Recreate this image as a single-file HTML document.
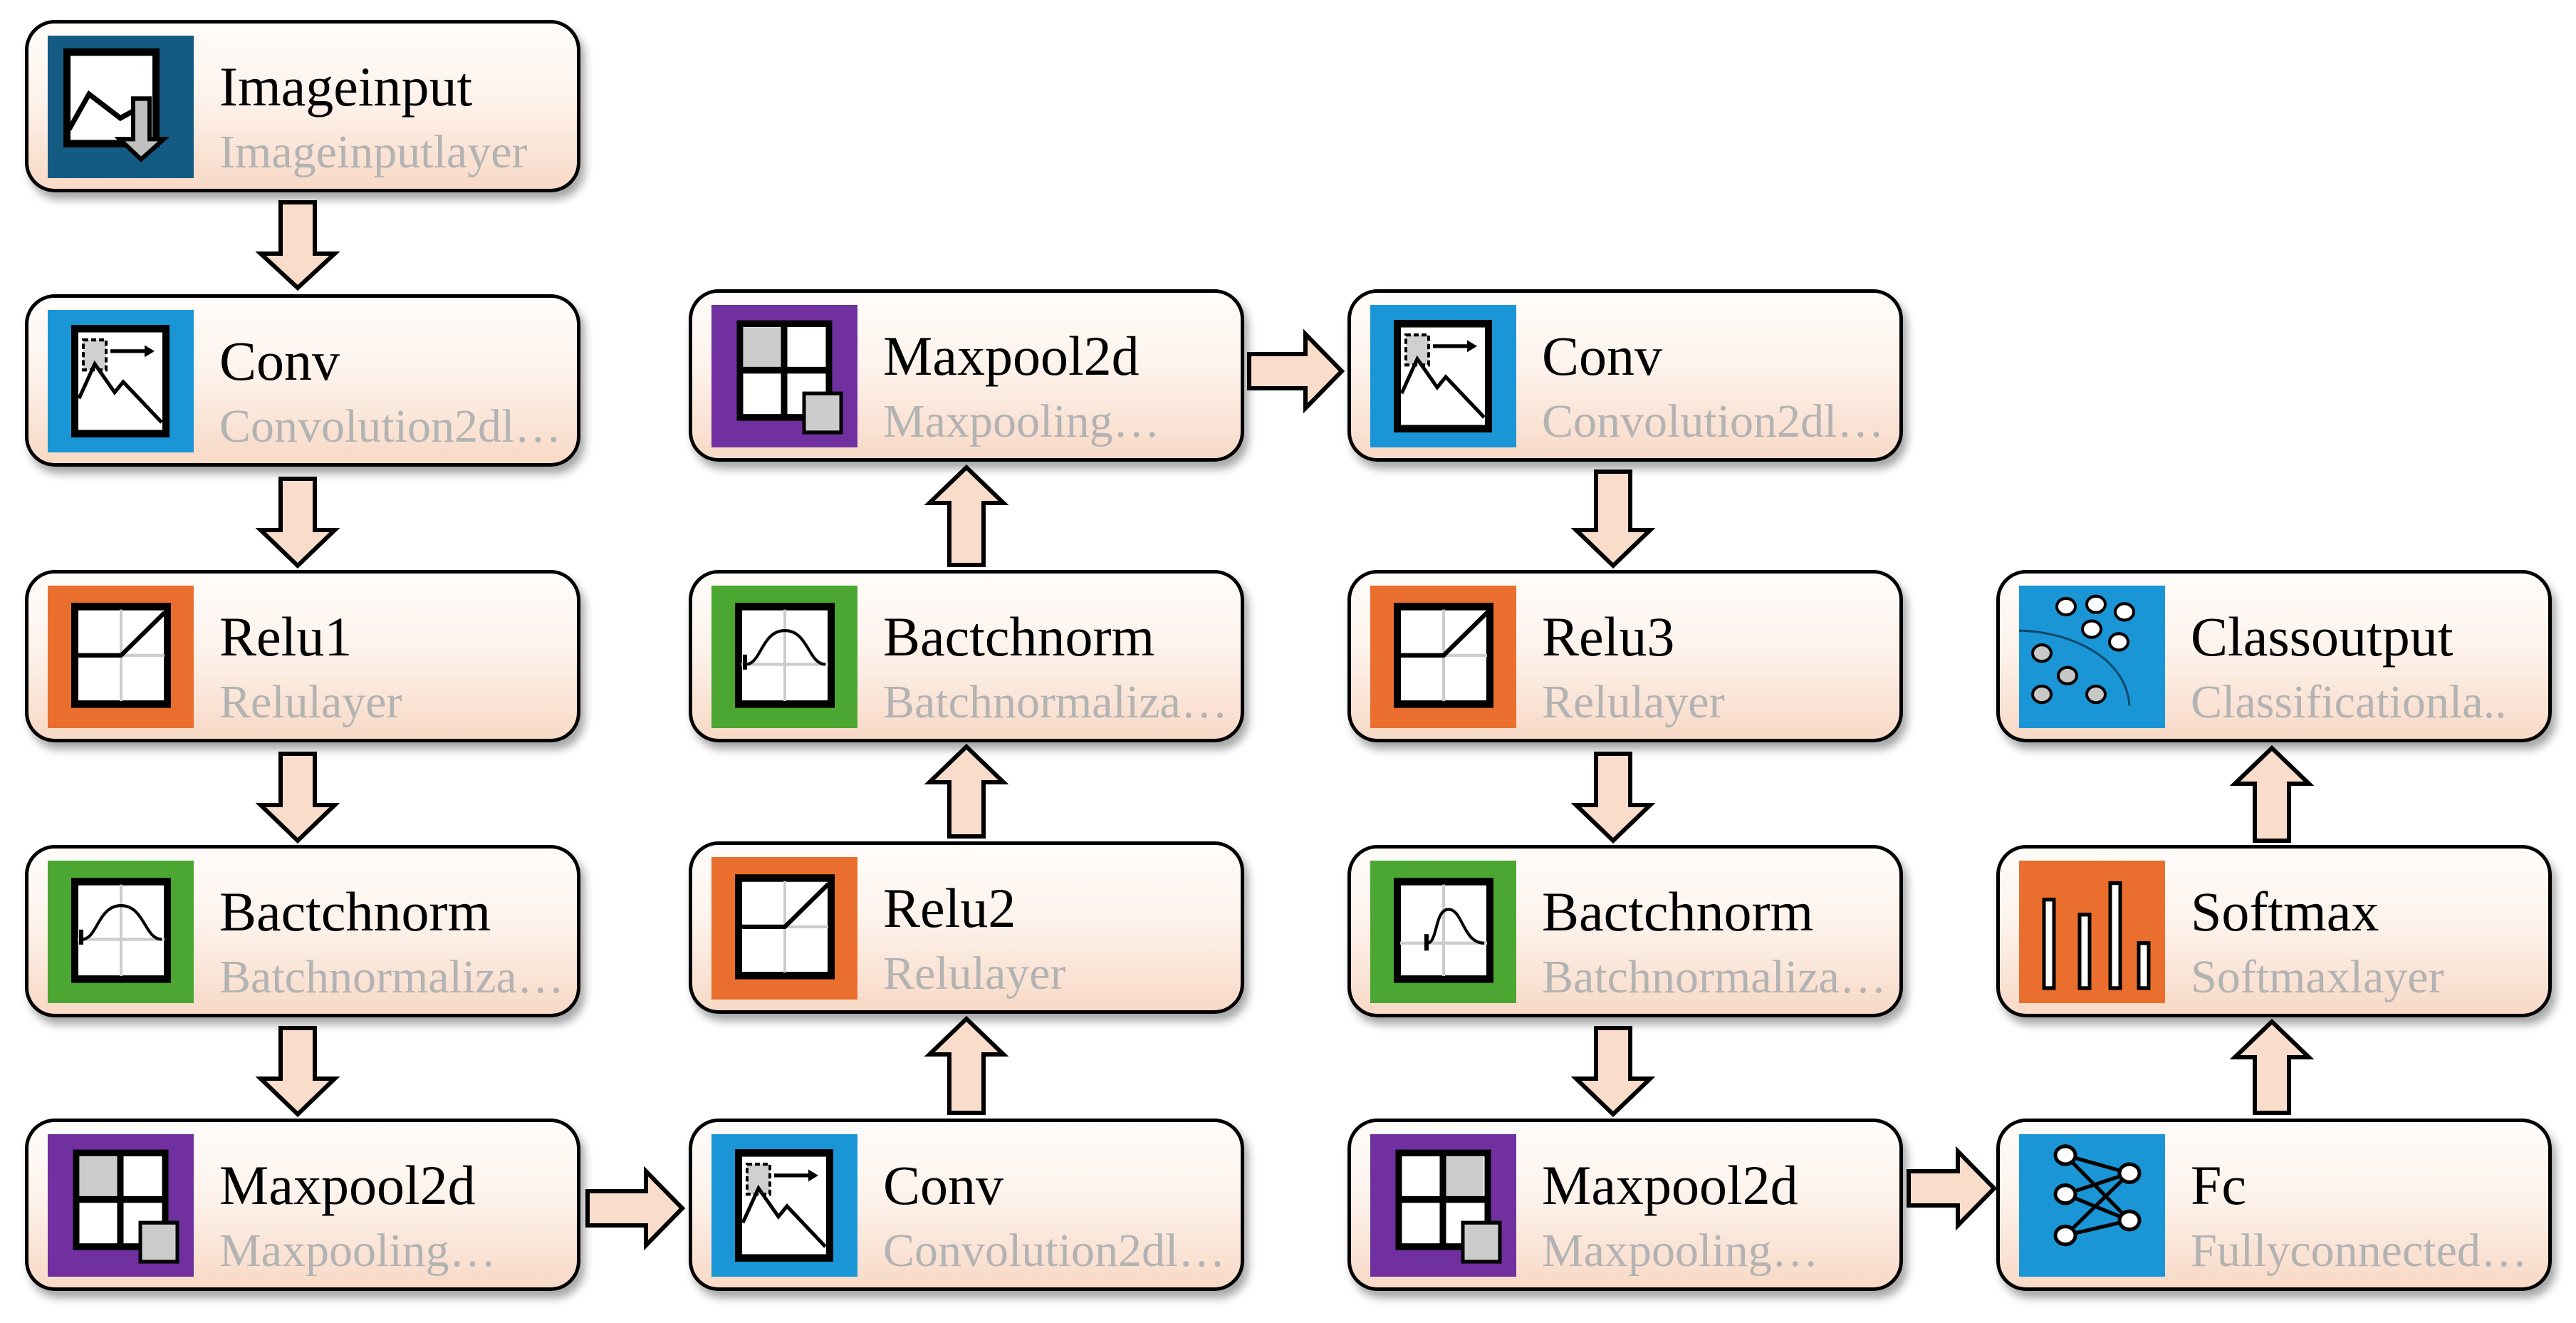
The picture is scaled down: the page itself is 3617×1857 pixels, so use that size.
<!DOCTYPE html>
<html><head><meta charset="utf-8"><style>
html,body{margin:0;padding:0;background:#fff;}
body{width:3617px;height:1857px;position:relative;overflow:hidden;font-family:"Liberation Serif",serif;}
.n{position:absolute;width:770px;height:232px;border:5px solid #000;border-radius:42px;box-sizing:content-box;
background:linear-gradient(to bottom,#fffcfa 0%,#fdf3ec 45%,#f8d9c6 100%);box-shadow:6px 10px 12px rgba(0,0,0,.35);}
.ic{position:absolute;left:27px;top:17px;width:205px;height:200px;}
.t{position:absolute;left:268px;top:50px;font-size:78px;color:#000;white-space:nowrap;line-height:1;}
.s{position:absolute;left:268px;top:148px;font-size:66px;color:#b3b3b3;white-space:nowrap;line-height:1;}
svg{display:block}
</style></head><body>

<!-- Column 1 -->
<div class="n" style="left:35px;top:28px">
 <svg class="ic" viewBox="0 0 205 190" preserveAspectRatio="none"><rect width="205" height="190" fill="#135b83"/>
 <rect x="27" y="22" width="125" height="122" fill="#fff" stroke="#000" stroke-width="10"/>
 <polyline points="30,125 58,78 102,110 125,98" fill="none" stroke="#000" stroke-width="7"/>
 <polygon points="120,84 143,84 143,138 163,138 131,165 101,138 120,138" fill="#c0c0c0" stroke="#000" stroke-width="6"/></svg>
 <div class="t">Imageinput</div><div class="s">Imageinputlayer</div></div>

<div class="n" style="left:35px;top:413px">
 <svg class="ic" viewBox="0 0 205 190" preserveAspectRatio="none"><rect width="205" height="190" fill="#1a96d6"/>
 <rect x="38" y="25" width="128" height="140" fill="#fff" stroke="#000" stroke-width="10"/>
 <rect x="50" y="40" width="32" height="40" fill="#d0d0d0" stroke="#000" stroke-width="4" stroke-dasharray="7,4"/>
 <polyline points="44,118 66,72 94,110 106,96 160,150" fill="none" stroke="#000" stroke-width="5"/>
 <line x1="88" y1="55" x2="140" y2="55" stroke="#000" stroke-width="5"/><polygon points="150,55 136,47 136,63"/></svg>
 <div class="t">Conv</div><div class="s">Convolution2dl…</div></div>

<div class="n" style="left:35px;top:800px">
 <svg class="ic" viewBox="0 0 205 190" preserveAspectRatio="none"><rect width="205" height="190" fill="#ea6f2f"/>
 <rect x="38" y="28" width="130" height="130" fill="#fff" stroke="#000" stroke-width="10"/>
 <line x1="103" y1="32" x2="103" y2="154" stroke="#ccc" stroke-width="4"/><line x1="42" y1="93" x2="164" y2="93" stroke="#ccc" stroke-width="4"/>
 <polyline points="42,93 103,93 164,36" fill="none" stroke="#000" stroke-width="6"/></svg>
 <div class="t">Relu1</div><div class="s">Relulayer</div></div>

<div class="n" style="left:35px;top:1186px">
 <svg class="ic" viewBox="0 0 205 190" preserveAspectRatio="none"><rect width="205" height="190" fill="#4ba731"/>
 <rect x="38" y="28" width="130" height="130" fill="#fff" stroke="#000" stroke-width="10"/>
 <line x1="103" y1="32" x2="103" y2="154" stroke="#ccc" stroke-width="4"/><line x1="42" y1="105" x2="164" y2="105" stroke="#ccc" stroke-width="4"/>
 <path d="M48,105 C70,105 70,60 103,60 C136,60 136,105 160,105" fill="none" stroke="#000" stroke-width="4"/><rect x="44" y="92" width="6" height="20"/></svg>
 <div class="t">Bactchnorm</div><div class="s">Batchnormaliza…</div></div>

<div class="n" style="left:35px;top:1570px">
 <svg class="ic" viewBox="0 0 205 190" preserveAspectRatio="none"><rect width="205" height="190" fill="#7030a0"/>
 <rect x="40" y="25" width="125" height="125" fill="#fff" stroke="#000" stroke-width="9"/>
 <rect x="45" y="30" width="57" height="57" fill="#ccc"/>
 <line x1="102" y1="25" x2="102" y2="150" stroke="#000" stroke-width="9"/><line x1="40" y1="87" x2="165" y2="87" stroke="#000" stroke-width="9"/>
 <rect x="130" y="118" width="52" height="52" fill="#ccc" stroke="#000" stroke-width="5"/></svg>
 <div class="t">Maxpool2d</div><div class="s">Maxpooling…</div></div>

<!-- Column 2 -->
<div class="n" style="left:967px;top:406px">
 <svg class="ic" viewBox="0 0 205 190" preserveAspectRatio="none"><rect width="205" height="190" fill="#7030a0"/>
 <rect x="40" y="25" width="125" height="125" fill="#fff" stroke="#000" stroke-width="9"/>
 <rect x="45" y="30" width="57" height="57" fill="#ccc"/>
 <line x1="102" y1="25" x2="102" y2="150" stroke="#000" stroke-width="9"/><line x1="40" y1="87" x2="165" y2="87" stroke="#000" stroke-width="9"/>
 <rect x="130" y="118" width="52" height="52" fill="#ccc" stroke="#000" stroke-width="5"/></svg>
 <div class="t">Maxpool2d</div><div class="s">Maxpooling…</div></div>

<div class="n" style="left:967px;top:800px">
 <svg class="ic" viewBox="0 0 205 190" preserveAspectRatio="none"><rect width="205" height="190" fill="#4ba731"/>
 <rect x="38" y="28" width="130" height="130" fill="#fff" stroke="#000" stroke-width="10"/>
 <line x1="103" y1="32" x2="103" y2="154" stroke="#ccc" stroke-width="4"/><line x1="42" y1="105" x2="164" y2="105" stroke="#ccc" stroke-width="4"/>
 <path d="M48,105 C70,105 70,60 103,60 C136,60 136,105 160,105" fill="none" stroke="#000" stroke-width="4"/><rect x="44" y="92" width="6" height="20"/></svg>
 <div class="t">Bactchnorm</div><div class="s">Batchnormaliza…</div></div>

<div class="n" style="left:967px;top:1181px">
 <svg class="ic" viewBox="0 0 205 190" preserveAspectRatio="none"><rect width="205" height="190" fill="#ea6f2f"/>
 <rect x="38" y="28" width="130" height="130" fill="#fff" stroke="#000" stroke-width="10"/>
 <line x1="103" y1="32" x2="103" y2="154" stroke="#ccc" stroke-width="4"/><line x1="42" y1="93" x2="164" y2="93" stroke="#ccc" stroke-width="4"/>
 <polyline points="42,93 103,93 164,36" fill="none" stroke="#000" stroke-width="6"/></svg>
 <div class="t">Relu2</div><div class="s">Relulayer</div></div>

<div class="n" style="left:967px;top:1570px">
 <svg class="ic" viewBox="0 0 205 190" preserveAspectRatio="none"><rect width="205" height="190" fill="#1a96d6"/>
 <rect x="38" y="25" width="128" height="140" fill="#fff" stroke="#000" stroke-width="10"/>
 <rect x="50" y="40" width="32" height="40" fill="#d0d0d0" stroke="#000" stroke-width="4" stroke-dasharray="7,4"/>
 <polyline points="44,118 66,72 94,110 106,96 160,150" fill="none" stroke="#000" stroke-width="5"/>
 <line x1="88" y1="55" x2="140" y2="55" stroke="#000" stroke-width="5"/><polygon points="150,55 136,47 136,63"/></svg>
 <div class="t">Conv</div><div class="s">Convolution2dl…</div></div>

<!-- Column 3 -->
<div class="n" style="left:1892px;top:406px">
 <svg class="ic" viewBox="0 0 205 190" preserveAspectRatio="none"><rect width="205" height="190" fill="#1a96d6"/>
 <rect x="38" y="25" width="128" height="140" fill="#fff" stroke="#000" stroke-width="10"/>
 <rect x="50" y="40" width="32" height="40" fill="#d0d0d0" stroke="#000" stroke-width="4" stroke-dasharray="7,4"/>
 <polyline points="44,118 66,72 94,110 106,96 160,150" fill="none" stroke="#000" stroke-width="5"/>
 <line x1="88" y1="55" x2="140" y2="55" stroke="#000" stroke-width="5"/><polygon points="150,55 136,47 136,63"/></svg>
 <div class="t">Conv</div><div class="s">Convolution2dl…</div></div>

<div class="n" style="left:1892px;top:800px">
 <svg class="ic" viewBox="0 0 205 190" preserveAspectRatio="none"><rect width="205" height="190" fill="#ea6f2f"/>
 <rect x="38" y="28" width="130" height="130" fill="#fff" stroke="#000" stroke-width="10"/>
 <line x1="103" y1="32" x2="103" y2="154" stroke="#ccc" stroke-width="4"/><line x1="42" y1="93" x2="164" y2="93" stroke="#ccc" stroke-width="4"/>
 <polyline points="42,93 103,93 164,36" fill="none" stroke="#000" stroke-width="6"/></svg>
 <div class="t">Relu3</div><div class="s">Relulayer</div></div>

<div class="n" style="left:1892px;top:1186px">
 <svg class="ic" viewBox="0 0 205 190" preserveAspectRatio="none"><rect width="205" height="190" fill="#4ba731"/>
 <rect x="38" y="28" width="130" height="130" fill="#fff" stroke="#000" stroke-width="10"/>
 <line x1="103" y1="32" x2="103" y2="154" stroke="#ccc" stroke-width="4"/><line x1="42" y1="110" x2="164" y2="110" stroke="#ccc" stroke-width="4"/>
 <path d="M80,110 C95,110 90,65 110,65 C130,65 130,110 160,110" fill="none" stroke="#000" stroke-width="4"/><rect x="76" y="98" width="6" height="22"/></svg>
 <div class="t">Bactchnorm</div><div class="s">Batchnormaliza…</div></div>

<div class="n" style="left:1892px;top:1570px">
 <svg class="ic" viewBox="0 0 205 190" preserveAspectRatio="none"><rect width="205" height="190" fill="#7030a0"/>
 <rect x="40" y="25" width="125" height="125" fill="#fff" stroke="#000" stroke-width="9"/>
 <rect x="102" y="30" width="57" height="57" fill="#ccc"/>
 <line x1="102" y1="25" x2="102" y2="150" stroke="#000" stroke-width="9"/><line x1="40" y1="87" x2="165" y2="87" stroke="#000" stroke-width="9"/>
 <rect x="130" y="118" width="52" height="52" fill="#ccc" stroke="#000" stroke-width="5"/></svg>
 <div class="t">Maxpool2d</div><div class="s">Maxpooling…</div></div>

<!-- Column 4 -->
<div class="n" style="left:2803px;top:800px">
 <svg class="ic" viewBox="0 0 205 190" preserveAspectRatio="none"><rect width="205" height="190" fill="#1a96d6"/>
 <path d="M0,60 C60,60 150,90 155,160" fill="none" stroke="#0d4a6b" stroke-width="3"/>
 <g stroke="#000" stroke-width="4" fill="#fff">
 <ellipse cx="66" cy="28" rx="13" ry="11"/><ellipse cx="108" cy="25" rx="13" ry="11"/><ellipse cx="148" cy="35" rx="13" ry="11"/>
 <ellipse cx="102" cy="58" rx="13" ry="11"/><ellipse cx="140" cy="75" rx="13" ry="11"/></g>
 <g stroke="#000" stroke-width="4" fill="#c8c8c8">
 <ellipse cx="32" cy="90" rx="13" ry="11"/><ellipse cx="68" cy="120" rx="13" ry="11"/><ellipse cx="32" cy="145" rx="13" ry="11"/><ellipse cx="108" cy="145" rx="13" ry="11"/></g></svg>
 <div class="t">Classoutput</div><div class="s">Classificationla..</div></div>

<div class="n" style="left:2803px;top:1186px">
 <svg class="ic" viewBox="0 0 205 190" preserveAspectRatio="none"><rect width="205" height="190" fill="#ea6f2f"/>
 <g fill="#fff" stroke="#000" stroke-width="5">
 <rect x="35" y="52" width="14" height="118"/><rect x="85" y="72" width="14" height="98"/><rect x="128" y="30" width="14" height="140"/><rect x="168" y="110" width="14" height="60"/></g></svg>
 <div class="t">Softmax</div><div class="s">Softmaxlayer</div></div>

<div class="n" style="left:2803px;top:1570px">
 <svg class="ic" viewBox="0 0 205 190" preserveAspectRatio="none"><rect width="205" height="190" fill="#1a96d6"/>
 <g stroke="#000" stroke-width="5"><line x1="65" y1="28" x2="155" y2="52"/><line x1="65" y1="28" x2="155" y2="115"/>
 <line x1="65" y1="80" x2="155" y2="52"/><line x1="65" y1="80" x2="155" y2="115"/>
 <line x1="65" y1="135" x2="155" y2="52"/><line x1="65" y1="135" x2="155" y2="115"/></g>
 <g stroke="#000" stroke-width="5" fill="#fff"><ellipse cx="65" cy="28" rx="14" ry="12"/><ellipse cx="65" cy="80" rx="14" ry="12"/><ellipse cx="65" cy="135" rx="14" ry="12"/>
 <ellipse cx="155" cy="52" rx="14" ry="12"/><ellipse cx="155" cy="115" rx="14" ry="12"/></g></svg>
 <div class="t">Fc</div><div class="s">Fullyconnected…</div></div>

<!-- Arrows -->
<svg style="position:absolute;left:0;top:0" width="3617" height="1857">
<g fill="#fadccb" stroke="#000" stroke-width="6" stroke-linejoin="miter">
<polygon points="394,284 442,284 442,356 470,356 418,404 366,356 394,356"/>
<polygon points="394,672 442,672 442,744 470,744 418,794 366,744 394,744"/>
<polygon points="394,1058 442,1058 442,1130 470,1130 418,1180 366,1130 394,1130"/>
<polygon points="394,1443 442,1443 442,1514 470,1514 418,1564 366,1514 394,1514"/>
<polygon points="2241,662 2289,662 2289,744 2317,744 2265,794 2213,744 2241,744"/>
<polygon points="2241,1058 2289,1058 2289,1130 2317,1130 2265,1180 2213,1130 2241,1130"/>
<polygon points="2241,1443 2289,1443 2289,1514 2317,1514 2265,1564 2213,1514 2241,1514"/>
<polygon points="1333,1562 1381,1562 1381,1480 1409,1480 1357,1430 1305,1480 1333,1480"/>
<polygon points="1333,1174 1381,1174 1381,1098 1409,1098 1357,1048 1305,1098 1333,1098"/>
<polygon points="1333,793 1381,793 1381,706 1409,706 1357,656 1305,706 1333,706"/>
<polygon points="3166,1562 3214,1562 3214,1484 3242,1484 3190,1434 3138,1484 3166,1484"/>
<polygon points="3166,1180 3214,1180 3214,1100 3242,1100 3190,1050 3138,1100 3166,1100"/>
<polygon points="825,1672 907,1672 907,1644 958,1696 907,1748 907,1720 825,1720"/>
<polygon points="1754,497 1833,497 1833,469 1884,521 1833,573 1833,545 1754,545"/>
<polygon points="2680,1644 2749,1644 2749,1616 2800,1668 2749,1720 2749,1692 2680,1692"/>
</g></svg>
</body></html>
